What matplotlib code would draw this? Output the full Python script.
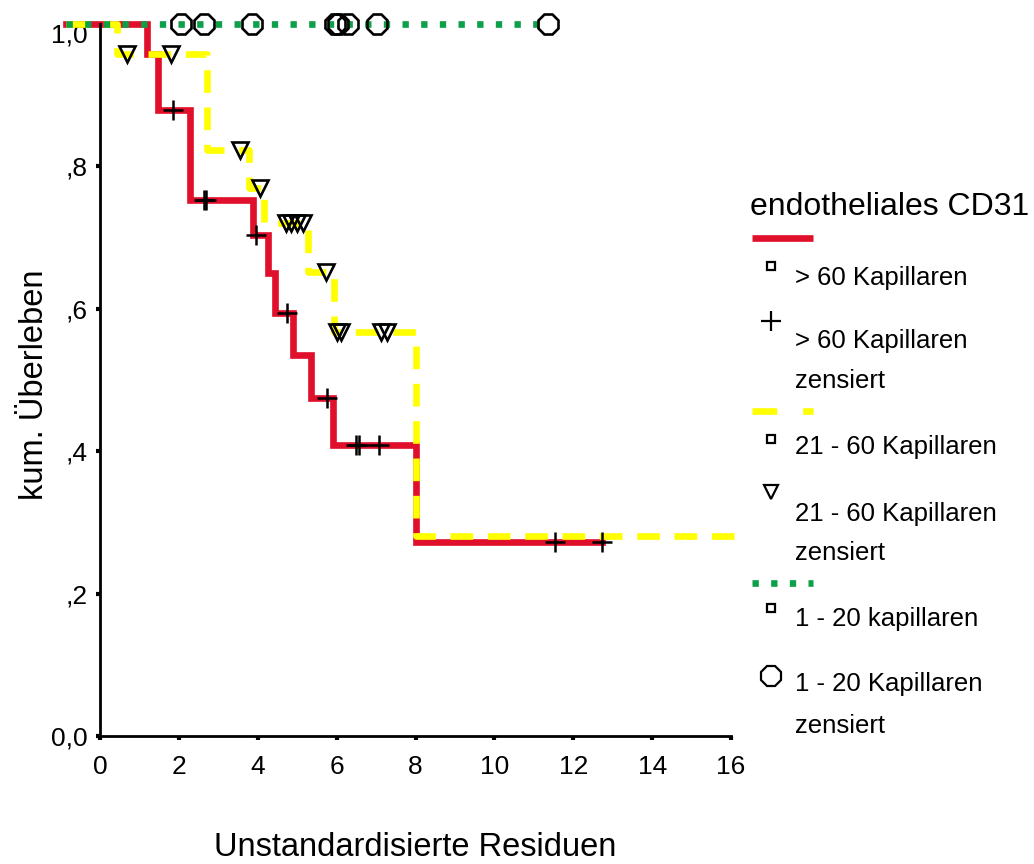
import numpy as np
import matplotlib
matplotlib.use("Agg")
from matplotlib import pyplot as plt
from matplotlib.lines import Line2D

plt.rcParams['font.family'] = ['Liberation Sans', 'DejaVu Sans']

# Kaplan-Meier steps (time, survival after step)
red_time = [-0.87, 1.19, 1.47, 2.28, 3.88, 4.26, 4.44, 4.89, 5.35, 5.91, 8.01, 12.73]
red_surv = [1.0, 0.958, 0.879, 0.753, 0.704, 0.650, 0.594, 0.535, 0.475, 0.409, 0.272, 0.272]
red_cens = [1.85, 2.63, 2.68, 3.96, 4.74, 5.76, 6.49, 6.57, 7.07, 11.54, 12.73]

yel_time = [-0.87, 0.43, 2.71, 3.78, 4.16, 5.27, 5.93, 8.01, 16.23]
yel_surv = [1.0, 0.958, 0.823, 0.770, 0.720, 0.652, 0.567, 0.281, 0.281]
yel_cens = [0.68, 1.80, 3.55, 4.06, 4.72, 4.85, 5.0, 5.15, 5.73, 6.01, 6.11, 7.12, 7.28]

grn_time = [-0.87, 11.36]
grn_surv = [1.0, 1.0]
grn_cens = [2.05, 2.64, 3.85, 5.96, 6.03, 6.29, 7.02, 11.36]

x_ticks = [0, 2, 4, 6, 8, 10, 12, 14, 16]
y_ticks = [0.0, 0.2, 0.4, 0.6, 0.8, 1.0]
y_ticklabels = ['0,0', ',2', ',4', ',6', ',8', '1,0']

RED = '#e0102c'
YEL = '#ffff00'
GRN = '#0ca04a'

W, H = 1034, 864


def step_value(times, surv, x):
    idx = np.searchsorted(times, x, side='right') - 1
    return np.asarray(surv)[idx]


fig = plt.figure(figsize=(W / 100, H / 100), dpi=100)
ax = fig.add_axes([60.6 / W, 1 - 757.4 / H, 690.2 / W, 754.8 / H])
ax.set_xlim(-1.0, 16.5)
ax.set_ylim(-0.03, 1.03)

lw = 4.8
ax.step(red_time, red_surv, where='post', color=RED, lw=lw, solid_joinstyle='miter', zorder=2)
l_y, = ax.step(yel_time, yel_surv, where='post', color=YEL, lw=lw, zorder=3)
l_y.set_dashes((3.4, 2.2))
l_y.set_dash_capstyle('butt')
l_g, = ax.step(grn_time, grn_surv, where='post', color=GRN, lw=lw, zorder=4)
l_g.set_dashes((0.95, 1.85))
l_g.set_dash_capstyle('butt')

ax.plot(red_cens, step_value(red_time, red_surv, red_cens), ls='none', marker='+',
        ms=15, mew=1.8, color='black', zorder=5)
ax.plot(yel_cens, step_value(yel_time, yel_surv, yel_cens), ls='none', marker='v',
        ms=11, mew=1.9, mfc='none', mec='black', zorder=5)
ax.plot(grn_cens, step_value(grn_time, grn_surv, grn_cens), ls='none', marker='8',
        ms=16, mew=1.9, mfc='none', mec='black', zorder=5)

for s in ['top', 'right']:
    ax.spines[s].set_visible(False)
ax.spines['left'].set_position(('data', 0))
ax.spines['bottom'].set_position(('data', 0))
ax.spines['left'].set_bounds(0, 1)
ax.spines['bottom'].set_bounds(0, 16)
ax.spines['left'].set_linewidth(2)
ax.spines['bottom'].set_linewidth(2)

ax.set_xticks(x_ticks)
ax.set_xticklabels([str(t) for t in x_ticks])
ax.set_yticks(y_ticks)
ax.set_yticklabels(y_ticklabels)
ax.tick_params(direction='out', length=3, width=3, labelsize=19, colors='black')
ax.tick_params(axis='x', pad=11)
ax.tick_params(axis='y', pad=6)
for t in ax.get_yticklabels():
    t.set_va('top' if t.get_text() == '1,0' else 'center_baseline')

fig.text(415 / W, 1 - 848 / H, 'Unstandardisierte Residuen', fontsize=23.5,
         ha='center', va='center')
fig.text(35 / W, 1 - 385 / H, 'kum. Überleben', fontsize=23.5, rotation=90,
         ha='center', va='center')


# legend built by hand to match the two-line entries
def fx(px):
    return px / W


def fy(py):
    return 1 - py / H


fig.text(fx(750), fy(207), 'endotheliales CD31', fontsize=23, ha='left', va='center')

def leg_line(py, color, dashes=None):
    ln = Line2D([fx(752), fx(813)], [fy(py), fy(py)], transform=fig.transFigure,
                color=color, lw=lw, solid_capstyle='butt')
    if dashes is not None:
        ln.set_dashes(dashes)
        ln.set_dash_capstyle('butt')
    fig.add_artist(ln)


def leg_marker(py, marker, ms):
    fig.add_artist(Line2D([fx(771)], [fy(py)], transform=fig.transFigure, ls='none',
                          marker=marker, ms=ms, mew=1.6, mfc='none', mec='black',
                          color='black'))


def leg_text(py, s):
    fig.text(fx(795), fy(py), s, fontsize=18.5, ha='left', va='center')


leg_line(238, RED)
leg_marker(266, 's', 6)
leg_text(278, '> 60 Kapillaren')
leg_marker(321, '+', 14)
leg_text(341, '> 60 Kapillaren')
leg_text(381, 'zensiert')

leg_line(411, YEL, (3.7, 3.9))
leg_marker(439, 's', 6)
leg_text(447, '21 - 60 Kapillaren')
leg_marker(492, 'v', 10)
leg_text(514, '21 - 60 Kapillaren')
leg_text(553, 'zensiert')

leg_line(583, GRN, (0.95, 1.85))
leg_marker(608, 's', 6)
leg_text(619, '1 - 20 kapillaren')
leg_marker(676, '8', 15)
leg_text(684, '1 - 20 Kapillaren')
leg_text(726, 'zensiert')

fig.savefig('out.png', dpi=100)
